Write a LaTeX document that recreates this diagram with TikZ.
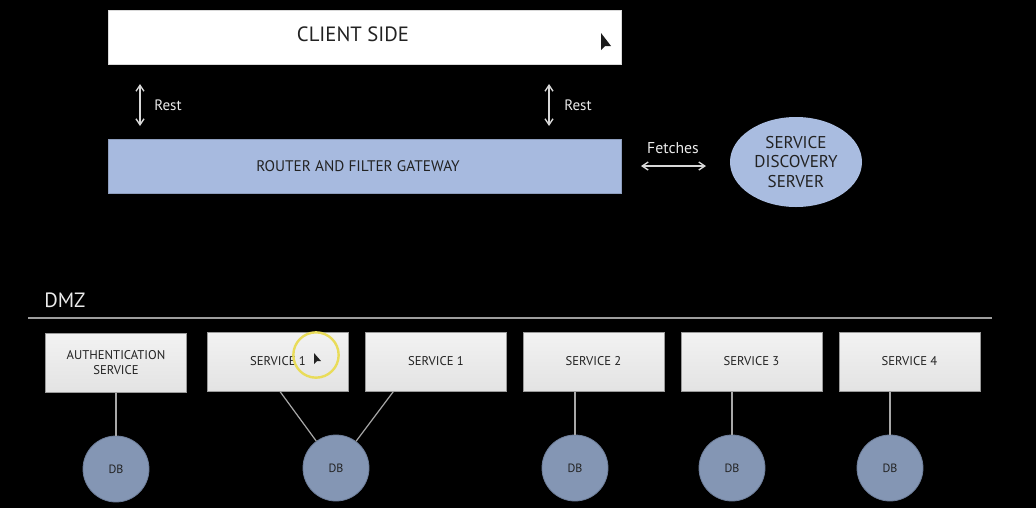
\documentclass[tikz,border=0pt]{standalone}
\usepackage{fontspec}
\setmainfont{PT Sans}
\usetikzlibrary{arrows.meta,calc,shapes.geometric}
\definecolor{gwblue}{HTML}{A7BADF}
\definecolor{elblue}{HTML}{A9BCE0}
\definecolor{dbblue}{HTML}{8496B4}
\definecolor{dbedge}{HTML}{6E7E9A}
\definecolor{boxedge}{HTML}{9A9A9A}
\definecolor{txt}{HTML}{222222}
\definecolor{lnk}{HTML}{A8A8A8}
\definecolor{arr}{HTML}{D8D8D8}
\definecolor{hilite}{HTML}{E9DC5A}
\tikzset{
  svcbox/.style={rectangle, draw=boxedge, line width=0.75pt, top color=white!95!black, bottom color=white!89!black,
    minimum width=105.75pt, minimum height=44.25pt, inner sep=0pt, align=center, text=txt, font=\fontsize{9.5pt}{11.5pt}\selectfont},
  dbnode/.style={circle, draw=dbedge, line width=0.6pt, fill=dbblue, minimum size=49.5pt, inner sep=0pt, text=txt, font=\fontsize{9pt}{10pt}\selectfont},
  lnkline/.style={draw=lnk, line width=0.9pt},
  dblarrow/.style={draw=arr, line width=1pt, {Straight Barb[length=4.5pt,width=6pt]}-{Straight Barb[length=4.5pt,width=6pt]}},
  lbl/.style={text=white!92!black, font=\fontsize{11.3pt}{13pt}\selectfont, inner sep=0pt}
}
\begin{document}
\begin{tikzpicture}[x=0.75pt,y=-0.75pt]
\fill[black] (0,0) rectangle (1036,508);
\useasboundingbox (0,0) rectangle (1036,508);

% top boxes
\node[rectangle, fill=white, draw=white!85!black, line width=0.5pt, minimum width=384.75pt, minimum height=40.5pt, inner sep=0pt] (client) at (364.5,37) {};
\node[text=txt, font=\fontsize{15.5pt}{18pt}\selectfont, inner sep=0pt] (clienttxt) at (353,34.5) {CLIENT SIDE};
\node[rectangle, fill=gwblue, draw=gwblue!85!black, line width=0.5pt, minimum width=384.75pt, minimum height=40.5pt, inner sep=0pt] (gateway) at (364.5,166) {};
\node[text=txt, font=\fontsize{11.5pt}{13pt}\selectfont, inner sep=0pt] (gwtxt) at (358,166) {ROUTER AND FILTER GATEWAY};

% Rest arrows
\coordinate (r1t) at (140,84);
\coordinate (r1b) at (140,126);
\coordinate (r2t) at (549,84);
\coordinate (r2b) at (549,126);
\draw[dblarrow] (r1t) -- (r1b);
\draw[dblarrow] (r2t) -- (r2b);
\node[lbl, anchor=west] (rest1) at (154,105) {Rest};
\node[lbl, anchor=west] (rest2) at (564,105) {Rest};

% discovery
\node[ellipse, fill=elblue, line width=0.5pt, minimum width=99pt, minimum height=67.5pt, inner sep=0pt,
  align=center, text=txt, font=\fontsize{12.8pt}{14.6pt}\selectfont] (disc) at (796,162) {SERVICE\\DISCOVERY\\SERVER};
\coordinate (f1) at (641,166);
\coordinate (f2) at (706,166);
\draw[dblarrow] (f1) -- (f2);
\node[lbl, font=\fontsize{11.8pt}{13pt}\selectfont] (fetch) at (673,148) {Fetches};

% DMZ
\node[text=white!92!black, font=\fontsize{15.5pt}{17pt}\selectfont, anchor=west, inner sep=0pt] (dmz) at (44,300) {DMZ};
\coordinate (dmzl) at (28,318);
\coordinate (dmzr) at (992,318);
\draw[draw=white!62!black, line width=1.3pt] (dmzl) -- (dmzr);

% services
\node[svcbox] (auth) at (116,362.5) {AUTHENTICATION\\SERVICE};
\node[svcbox] (s1a) at (278,361.5) {SERVICE 1};
\node[svcbox] (s1b) at (436,361.5) {SERVICE 1};
\node[svcbox] (s2) at (593.5,361.5) {SERVICE 2};
\node[svcbox] (s3) at (751.5,361.5) {SERVICE 3};
\node[svcbox] (s4) at (909.5,361.5) {SERVICE 4};

% databases
\node[dbnode] (db1) at (116,469) {DB};
\node[dbnode] (db2) at (336,468) {DB};
\node[dbnode] (db3) at (575,468) {DB};
\node[dbnode] (db4) at (732,468) {DB};
\node[dbnode] (db5) at (890,468) {DB};

\draw[lnkline] (auth.south) -- (db1.north);
\draw[lnkline] ($(s1a.south)+(2,0)$) -- (db2);
\draw[lnkline] ($(s1b.south west)!0.2!(s1b.south east)$) -- (db2);
\draw[lnkline] (s2.south -| db3.north) -- (db3.north);
\draw[lnkline] (s3.south -| db4.north) -- (db4.north);
\draw[lnkline] (s4.south -| db5.north) -- (db5.north);

% screen-capture highlight and cursors
\draw[draw=hilite, line width=1.8pt] (316,355) circle[radius=17pt];
\fill[txt!80!black] (601,33) -- (601,50) -- (605,46) -- (611,46) -- cycle;
\fill[txt] (314,353) -- (314,364) -- (317,361) -- (321,361) -- cycle;
\end{tikzpicture}
\end{document}
